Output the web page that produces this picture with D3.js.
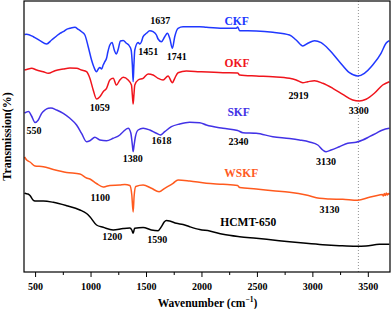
<!DOCTYPE html>
<html><head><meta charset="utf-8">
<script src="https://cdn.jsdelivr.net/npm/d3@7"></script>
<style>
html,body{margin:0;padding:0;background:#fff;}
svg{display:block;}
text{font-family:"Liberation Serif","Times New Roman",serif;font-weight:bold;}
</style></head>
<body>
<svg id="chart" width="392" height="309"></svg>
<script>
// ---- data: [wavenumber (cm-1), transmission (a.u., offset curves)] ----
const ckf = [[405,237.5],[424,237.7],[484,235.3],[544,231.3],[604,228],[649,232],[694,236],[724,238.7],[754,240.3],[784,242.7],[814,243.7],[859,244.7],[889,242.7],[919,240.3],[949,237],[979,225.3],[1009,212],[1030,205],[1054,200.3],[1070,203],[1084,204.5],[1100,203],[1114,207],[1129,210.3],[1144,213.7],[1156,220],[1174,227],[1194,229.5],[1214,222],[1232,218],[1250,223],[1269,231],[1294,231.5],[1324,228.7],[1350,226],[1366,222],[1377,207],[1384,190.3],[1391,207],[1399,222],[1429,229.5],[1444,228],[1459,230.3],[1474,235.3],[1504,238.7],[1534,241.3],[1564,240.3],[1594,237],[1609,233],[1639,230.3],[1669,235.3],[1693,238.7],[1714,233.7],[1738,223.7],[1759,235.3],[1789,243.7],[1834,245.3],[1984,245.3],[2044,244.7],[2194,243.7],[2314,243.7],[2326,245],[2344,241.3],[2494,241],[2644,239.7],[2794,237],[2854,232],[2914,226],[2959,228.7],[3019,231.3],[3079,229.3],[3154,222],[3244,210.3],[3334,199.3],[3409,196],[3469,198.7],[3544,207],[3619,218.7],[3664,228.7],[3694,231.3]];
const okf = [[405,202],[424,202.5],[469,203.7],[514,202],[574,200.3],[619,198.7],[679,201.3],[754,203],[814,204],[874,203.7],[919,202],[964,200.3],[994,193.7],[1024,182],[1054,173],[1084,175.3],[1114,180.3],[1144,183.7],[1174,192],[1204,193.7],[1234,187],[1264,192],[1294,194.7],[1339,192],[1369,187],[1377,177],[1384,168],[1391,177],[1399,187],[1429,192],[1474,193.7],[1519,198],[1564,197],[1609,193.7],[1654,192],[1699,196],[1738,189.3],[1759,193.7],[1789,199.3],[1864,201],[1984,200.3],[2194,199.3],[2326,199],[2344,197],[2494,196],[2644,195.3],[2794,193.7],[2854,192],[2914,189.3],[2959,190.3],[3019,191.3],[3094,188.7],[3184,183.7],[3274,177.7],[3364,172],[3424,171],[3484,172.7],[3559,178.7],[3634,187],[3694,190.3]];
const skf = [[405,159],[441,160.5],[468,156],[499,149.5],[529,152],[559,158.7],[589,162],[619,163.7],[643,164],[694,162],[754,158.7],[814,153.7],[874,147],[919,138.7],[964,130.3],[994,131.3],[1039,134.7],[1084,132],[1144,131.3],[1204,133.7],[1264,137],[1294,140.3],[1339,143.7],[1363,139],[1377,127],[1384,120.3],[1393,127],[1404,135],[1429,142],[1474,143.7],[1534,142],[1594,138.7],[1630,137],[1669,140.3],[1729,145.3],[1804,148],[1894,149.7],[1984,149.3],[2044,147],[2194,143.7],[2326,141.5],[2374,139.3],[2494,138.7],[2644,135.3],[2794,133.5],[2884,132],[2974,130],[3049,127],[3094,122],[3124,120.3],[3169,122],[3244,125.3],[3319,128.7],[3394,129.7],[3454,132],[3514,135.3],[3574,138.7],[3634,142],[3694,143.7]];
const wskf = [[405,115],[424,112],[454,110],[499,106],[574,105.3],[664,102.5],[784,99.5],[904,98],[964,94],[994,93],[1054,88.5],[1114,85],[1138,85.5],[1174,86.5],[1264,87],[1309,87.5],[1354,86.5],[1372,77],[1384,60],[1393,76],[1408,85.5],[1474,87],[1549,83.7],[1618,80.3],[1669,83.7],[1744,88.7],[1789,92],[1894,91],[2044,88.7],[2194,87.7],[2326,86.5],[2344,84.5],[2494,83],[2644,81.3],[2794,79.7],[2944,77],[3064,73.7],[3154,73],[3274,72.7],[3409,71.7],[3514,74.7],[3604,77],[3631,77.5],[3640,76],[3649,78.5],[3658,76.5],[3667,79],[3676,77],[3685,78.5],[3694,77.5]];
const hcmt = [[405,79],[409,78.7],[436,78],[454,76.5],[481,72],[499,71],[574,71],[664,69.7],[784,66.3],[904,62],[964,58.5],[994,55.3],[1054,47],[1114,44.7],[1204,42],[1294,43.5],[1354,44],[1372,42],[1384,38.7],[1395,43],[1399,43.7],[1474,44.5],[1549,42],[1609,41.3],[1639,45.3],[1664,50],[1684,51.5],[1714,51],[1774,48.7],[1834,47.5],[1894,45.3],[1984,42.5],[2074,41],[2194,37.7],[2344,35.3],[2494,33.7],[2644,32],[2794,30.3],[2944,28.7],[3094,27.3],[3244,26.3],[3394,25.7],[3484,26],[3604,27.7],[3694,27.7]];

const seriesNames = ["CKF","OKF","SKF","WSKF","HCMT-650"];
const seriesColors = ["#2038ff","#f0141c","#4232e6","#ff5a1e","#000000"];
const seriesData = [ckf, okf, skf, wskf, hcmt];
// series label positions [wavenumber, value]
const seriesLabelPos = [[2317,251.3],[2321,209.3],[2335,160.3],[2359,98.7],[2422,50.3]];

// peak annotations: [text, wavenumber, value]
const peakLabels = [
  ["1637",1628,252],["1451",1520,221],["1741",1777,215.3],
  ["2919",2875,177],["3300",3419,162],["1059",1084,164.7],
  ["550",490,142],["1618",1639,131.3],["2340",2335,130.3],["1380",1381,113.7],
  ["3130",3124,110.3],["1100",1087,74.7],["3130",3154,62.7],
  ["1200",1196,36],["1590",1601,32.7]
];

const majorTicks = [500,1000,1500,2000,2500,3000,3500];
const minorTicks = [750,1250,1750,2250,2750,3250];
const refLine = 3415;
const xDomain = [400,3700];
const yDomain = [0,271];

// ---- drawing ----
const svg = d3.select("#chart");
const L = 24, R = 390, T = 1, B = 272;
const x = d3.scaleLinear().domain(xDomain).range([L,R]);
const y = d3.scaleLinear().domain(yDomain).range([B,T]);

// reference dotted line
svg.append("line")
  .attr("x1",x(refLine)).attr("x2",x(refLine))
  .attr("y1",T).attr("y2",B)
  .attr("stroke","#777").attr("stroke-width",0.8)
  .attr("stroke-dasharray","1,2");

const line = d3.line().x(d=>x(d[0])).y(d=>y(d[1])).curve(d3.curveMonotoneX);

seriesData.forEach((s,i)=>{
  svg.append("path").datum(s)
    .attr("d",line)
    .attr("fill","none")
    .attr("stroke",seriesColors[i])
    .attr("stroke-width",1.5)
    .attr("stroke-linejoin","round");
});

// frame
svg.append("rect").attr("x",L).attr("y",T).attr("width",R-L).attr("height",B-T)
  .attr("fill","none").attr("stroke","#000").attr("stroke-width",1.2);

// x axis
const ax = svg.append("g").attr("transform",`translate(0,${B})`)
  .call(d3.axisBottom(x).tickValues(majorTicks).tickSize(5).tickPadding(6).tickFormat(d3.format("d")));
ax.select(".domain").remove();
ax.selectAll("text").attr("font-size",10).attr("fill","#000")
  .style("font-family",'"Liberation Serif",serif').style("font-weight","bold");
ax.selectAll("line").attr("stroke","#000").attr("stroke-width",1);
const axm = svg.append("g").attr("transform",`translate(0,${B})`)
  .call(d3.axisBottom(x).tickValues(minorTicks).tickSize(3).tickFormat(""));
axm.select(".domain").remove();
axm.selectAll("line").attr("stroke","#000").attr("stroke-width",1);

// axis titles
const xt = svg.append("text").attr("x",207.5).attr("y",302.5)
  .attr("text-anchor","middle").attr("dominant-baseline","central")
  .attr("font-size",11.5).attr("fill","#000");
xt.append("tspan").text("Wavenumber (cm");
xt.append("tspan").text("−1").attr("font-size",7.5).attr("dy",-4);
xt.append("tspan").text(")").attr("dy",4);

svg.append("text").attr("transform",`translate(7,${(T+B)/2}) rotate(-90)`)
  .attr("text-anchor","middle").attr("dominant-baseline","central")
  .attr("font-size",12).attr("fill","#000").text("Transmission(%)");

// series labels
seriesNames.forEach((n,i)=>{
  svg.append("text").attr("x",x(seriesLabelPos[i][0])).attr("y",y(seriesLabelPos[i][1]))
    .attr("text-anchor","middle").attr("dominant-baseline","central")
    .attr("font-size",11.5).attr("fill",seriesColors[i]).text(n);
});

// peak labels
peakLabels.forEach(p=>{
  svg.append("text").attr("x",x(p[1])).attr("y",y(p[2]))
    .attr("text-anchor","middle").attr("dominant-baseline","central")
    .attr("font-size",10).attr("fill","#000").text(p[0]);
});
</script>
</body></html>
